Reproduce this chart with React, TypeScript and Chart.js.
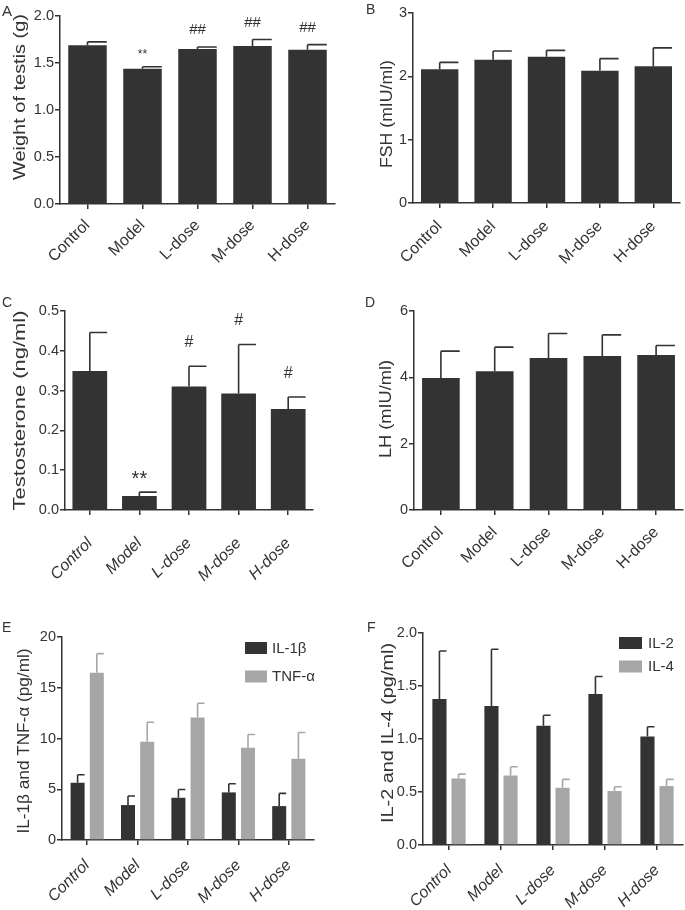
import React, { useEffect, useRef } from "react";
import { Chart, registerables } from "chart.js";

Chart.register(...registerables);

// ---------- data ----------
const categories = ["Control", "Model", "L-dose", "M-dose", "H-dose"];

const weightMean = [1.69, 1.44, 1.65, 1.68, 1.64];
const weightSem = [0.035, 0.02, 0.02, 0.07, 0.055];
const weightMarks = ["", "**", "##", "##", "##"];
const weightTicks = ["0.0", "0.5", "1.0", "1.5", "2.0"];

const fshMean = [2.11, 2.26, 2.31, 2.09, 2.16];
const fshSem = [0.11, 0.14, 0.1, 0.19, 0.29];
const fshTicks = ["0", "1", "2", "3"];

const testoMean = [0.349, 0.035, 0.31, 0.293, 0.254];
const testoSem = [0.097, 0.01, 0.051, 0.123, 0.03];
const testoMarks = ["", "**", "#", "#", "#"];
const testoTicks = ["0.0", "0.1", "0.2", "0.3", "0.4", "0.5"];

const lhMean = [3.98, 4.18, 4.58, 4.645, 4.675];
const lhSem = [0.81, 0.73, 0.74, 0.635, 0.285];
const lhTicks = ["0", "2", "4", "6"];

const il1bMean = [5.64, 3.44, 4.16, 4.69, 3.34];
const il1bSem = [0.79, 0.89, 0.82, 0.85, 1.25];
const tnfMean = [16.49, 9.67, 12.07, 9.08, 8.0];
const tnfSem = [1.87, 1.93, 1.41, 1.31, 2.59];
const cytoETicks = ["0", "5", "10", "15", "20"];

const il2Mean = [1.378, 1.312, 1.124, 1.425, 1.024];
const il2Sem = [0.452, 0.534, 0.1, 0.165, 0.091];
const il4Mean = [0.628, 0.656, 0.54, 0.509, 0.556];
const il4Sem = [0.041, 0.082, 0.079, 0.04, 0.063];
const cytoFTicks = ["0.0", "0.5", "1.0", "1.5", "2.0"];

// ---------- style ----------
const FONT = "'Liberation Sans', Arial, Helvetica, sans-serif";
const DARK = "#333333";
const GRAY = "#a6a6a6";
const TEXT = "#333333";

const errorBarPlugin = {
  id: "errorBars",
  afterDatasetsDraw(chart: any, _args: any, opts: any) {
    const ctx = chart.ctx;
    const y = chart.scales.y;
    chart.data.datasets.forEach((ds: any, di: number) => {
      const meta = chart.getDatasetMeta(di);
      meta.data.forEach((bar: any, i: number) => {
        const top = y.getPixelForValue(ds.data[i] + ds.errors[i]);
        const x = bar.x;
        const w = bar.width;
        ctx.save();
        ctx.strokeStyle = ds.backgroundColor;
        ctx.lineWidth = opts.lineWidth || 1.6;
        ctx.lineCap = "butt";
        ctx.beginPath();
        ctx.moveTo(x, bar.y);
        ctx.lineTo(x, top);
        ctx.moveTo(x - w * (opts.capLeft ?? 0), top);
        ctx.lineTo(x + w * (opts.capRight ?? 0.5), top);
        ctx.stroke();
        ctx.restore();
      });
    });
  },
};

const marksPlugin = {
  id: "marks",
  afterDatasetsDraw(chart: any, _args: any, opts: any) {
    if (!opts || !opts.labels) return;
    const ctx = chart.ctx;
    const y = chart.scales.y;
    const ds = chart.data.datasets[0];
    const meta = chart.getDatasetMeta(0);
    opts.labels.forEach((t: string, i: number) => {
      if (!t) return;
      const st = opts.styles[t];
      const bar = meta.data[i];
      const top = y.getPixelForValue(ds.data[i] + ds.errors[i]);
      ctx.save();
      ctx.fillStyle = TEXT;
      ctx.font = `${st.size}px ${FONT}`;
      ctx.textAlign = "center";
      ctx.textBaseline = "alphabetic";
      ctx.fillText(t, bar.x, top - st.offset);
      ctx.restore();
    });
  },
};

const yTitlePlugin = {
  id: "yTitle",
  afterDraw(chart: any, _args: any, opts: any) {
    if (!opts || !opts.text) return;
    const ctx = chart.ctx;
    ctx.save();
    ctx.fillStyle = TEXT;
    ctx.font = `${opts.size}px ${FONT}`;
    const natural = ctx.measureText(opts.text).width;
    const s = opts.length ? opts.length / natural : 1;
    ctx.translate(opts.x, opts.y);
    ctx.rotate(-Math.PI / 2);
    ctx.scale(s, 1);
    ctx.textAlign = "center";
    ctx.textBaseline = "middle";
    ctx.fillText(opts.text, 0, 0);
    ctx.restore();
  },
};

const boxLegendPlugin = {
  id: "boxLegend",
  afterDraw(chart: any, _args: any, opts: any) {
    if (!opts || !opts.show) return;
    const ctx = chart.ctx;
    chart.data.datasets.forEach((ds: any, i: number) => {
      const yy = opts.y + i * opts.gap;
      ctx.save();
      ctx.fillStyle = ds.backgroundColor;
      ctx.fillRect(opts.x, yy, opts.boxW, opts.boxH);
      ctx.fillStyle = TEXT;
      ctx.font = `${opts.size}px ${FONT}`;
      ctx.textAlign = "left";
      ctx.textBaseline = "middle";
      ctx.fillText(ds.label, opts.x + opts.boxW + opts.textGap, yy + opts.boxH / 2 + 0.5);
      ctx.restore();
    });
  },
};

type PanelProps = {
  left: number;
  top: number;
  width: number;
  height: number;
  datasets: any[];
  yMin: number;
  yMax: number;
  yStep: number;
  yLabels: string[];
  yWidth: number;
  xHeight: number;
  xPad: number;
  padTop: number;
  padRight: number;
  italic: boolean;
  catPct: number;
  barPct: number;
  title: any;
  marks?: any;
  legend?: any;
};

function Panel(p: PanelProps) {
  const ref = useRef<HTMLCanvasElement | null>(null);
  useEffect(() => {
    if (!ref.current) return;
    const axisGrid = {
      display: true,
      drawOnChartArea: false,
      drawTicks: true,
      tickLength: 5,
      tickWidth: 1.5,
      color: DARK,
      lineWidth: 1.5,
      offset: false,
    };
    const border = { display: true, color: DARK, width: 1.5 };
    const chart = new Chart(ref.current, {
      type: "bar",
      data: {
        labels: categories,
        datasets: p.datasets.map((d) => ({
          ...d,
          categoryPercentage: p.catPct,
          barPercentage: p.barPct,
          borderWidth: 0,
        })),
      },
      options: {
        responsive: false,
        animation: false,
        devicePixelRatio: 1,
        layout: { padding: { left: 0, top: p.padTop, right: p.padRight, bottom: 0 } },
        scales: {
          x: {
            offset: true,
            grid: axisGrid,
            border,
            ticks: {
              minRotation: 45,
              maxRotation: 45,
              color: TEXT,
              padding: p.xPad,
              font: { family: FONT, size: 16, style: p.italic ? "italic" : "normal" },
            },
            afterFit: (s: any) => {
              s.height = p.xHeight;
            },
          },
          y: {
            min: p.yMin,
            max: p.yMax,
            grid: axisGrid,
            border,
            ticks: {
              stepSize: p.yStep,
              color: TEXT,
              padding: 1,
              font: { family: FONT, size: 14.5 },
              callback: (_v: any, i: number) => p.yLabels[i],
            },
            afterFit: (s: any) => {
              s.width = p.yWidth;
            },
          },
        },
        plugins: {
          legend: { display: false },
          tooltip: { enabled: false },
          errorBars: { lineWidth: 1.6, capLeft: 0, capRight: 0.5 },
          marks: p.marks || {},
          yTitle: p.title,
          boxLegend: p.legend || { show: false },
        } as any,
      } as any,
      plugins: [errorBarPlugin, marksPlugin, yTitlePlugin, boxLegendPlugin],
    });
    return () => chart.destroy();
  }, []);
  return (
    <canvas
      ref={ref}
      width={p.width}
      height={p.height}
      style={{ position: "absolute", left: p.left, top: p.top, width: p.width, height: p.height }}
    />
  );
}

const letterStyle = (left: number, top: number, size: number): React.CSSProperties => ({
  position: "absolute",
  left,
  top,
  fontFamily: FONT,
  fontSize: size,
  lineHeight: `${size}px`,
  color: TEXT,
});

export default function App() {
  return (
    <div style={{ position: "absolute", left: 0, top: 0, width: 685, height: 910, background: "#fff", overflow: "hidden" }}>
      <Panel
        left={0}
        top={0}
        width={342}
        height={290}
        datasets={[{ label: "Weight", data: weightMean, errors: weightSem, backgroundColor: DARK }]}
        yMin={0}
        yMax={2}
        yStep={0.5}
        yLabels={weightTicks}
        yWidth={60}
        xHeight={86}
        xPad={7}
        padTop={16}
        padRight={7}
        italic={false}
        catPct={1}
        barPct={0.7}
        title={{ text: "Weight of testis (g)", x: 20.5, y: 97, size: 17, length: 166 }}
        marks={{
          labels: weightMarks,
          styles: { "**": { size: 12, offset: 9 }, "##": { size: 15, offset: 13 } },
        }}
      />
      <Panel
        left={342}
        top={0}
        width={343}
        height={290}
        datasets={[{ label: "FSH", data: fshMean, errors: fshSem, backgroundColor: DARK }]}
        yMin={0}
        yMax={3}
        yStep={1}
        yLabels={fshTicks}
        yWidth={71}
        xHeight={87}
        xPad={9}
        padTop={13}
        padRight={5}
        italic={false}
        catPct={1}
        barPct={0.7}
        title={{ text: "FSH (mIU/ml)", x: 45, y: 114, size: 17, length: 108 }}
      />
      <Panel
        left={0}
        top={290}
        width={342}
        height={310}
        datasets={[{ label: "Testosterone", data: testoMean, errors: testoSem, backgroundColor: DARK }]}
        yMin={0}
        yMax={0.5}
        yStep={0.1}
        yLabels={testoTicks}
        yWidth={65}
        xHeight={90}
        xPad={19}
        padTop={21}
        padRight={29}
        italic={true}
        catPct={1}
        barPct={0.7}
        title={{ text: "Testosterone (ng/ml)", x: 20.5, y: 120.5, size: 17, length: 200 }}
        marks={{
          labels: testoMarks,
          styles: { "**": { size: 20, offset: 7 }, "#": { size: 16, offset: 19 } },
        }}
      />
      <Panel
        left={342}
        top={290}
        width={343}
        height={310}
        datasets={[{ label: "LH", data: lhMean, errors: lhSem, backgroundColor: DARK }]}
        yMin={0}
        yMax={6}
        yStep={2}
        yLabels={lhTicks}
        yWidth={72}
        xHeight={90}
        xPad={8}
        padTop={21}
        padRight={2}
        italic={false}
        catPct={1}
        barPct={0.7}
        title={{ text: "LH (mIU/ml)", x: 44.5, y: 119, size: 17, length: 98 }}
      />
      <Panel
        left={0}
        top={600}
        width={342}
        height={310}
        datasets={[
          { label: "IL-1β", data: il1bMean, errors: il1bSem, backgroundColor: DARK },
          { label: "TNF-α", data: tnfMean, errors: tnfSem, backgroundColor: GRAY },
        ]}
        yMin={0}
        yMax={20}
        yStep={5}
        yLabels={cytoETicks}
        yWidth={62}
        xHeight={70}
        xPad={11}
        padTop={37}
        padRight={28}
        italic={true}
        catPct={0.762}
        barPct={0.73}
        title={{ text: "IL-1β and TNF-α (pg/ml)", x: 24, y: 141, size: 17, length: 185 }}
        legend={{ show: true, x: 245, y: 42, gap: 28.5, boxW: 22, boxH: 12, textGap: 5, size: 15 }}
      />
      <Panel
        left={342}
        top={600}
        width={343}
        height={310}
        datasets={[
          { label: "IL-2", data: il2Mean, errors: il2Sem, backgroundColor: DARK },
          { label: "IL-4", data: il4Mean, errors: il4Sem, backgroundColor: GRAY },
        ]}
        yMin={0}
        yMax={2}
        yStep={0.5}
        yLabels={cytoFTicks}
        yWidth={81}
        xHeight={65}
        xPad={11}
        padTop={33}
        padRight={2}
        italic={true}
        catPct={0.735}
        barPct={0.74}
        title={{ text: "IL-2 and IL-4 (pg/ml)", x: 46, y: 133, size: 17, length: 180 }}
        legend={{ show: true, x: 277, y: 37, gap: 23.5, boxW: 23, boxH: 12, textGap: 6, size: 15 }}
      />
      <div style={letterStyle(2, 3, 15)}>A</div>
      <div style={letterStyle(366, 2, 14)}>B</div>
      <div style={letterStyle(2, 295, 14)}>C</div>
      <div style={letterStyle(365, 295, 14)}>D</div>
      <div style={letterStyle(2, 620, 14)}>E</div>
      <div style={letterStyle(367, 620, 14)}>F</div>
    </div>
  );
}
